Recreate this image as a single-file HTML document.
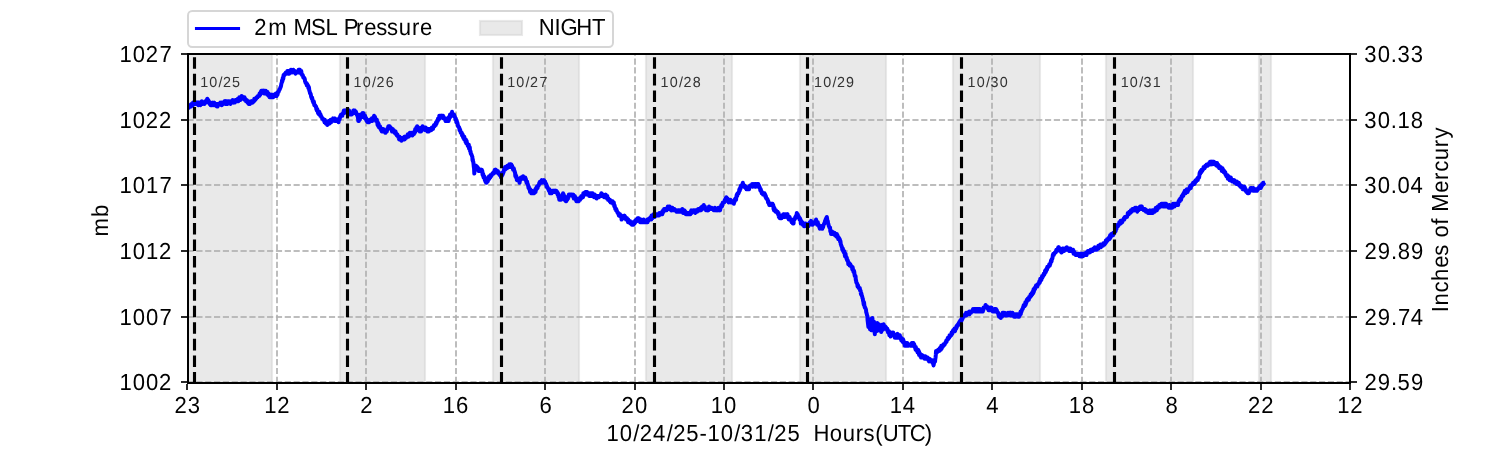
<!DOCTYPE html>
<html lang="en"><head><meta charset="utf-8"><title>2m MSL Pressure</title>
<style>html,body{margin:0;padding:0;background:#fff;}body{width:1500px;height:450px;overflow:hidden;}svg{display:block;}text{font-family:"Liberation Sans",sans-serif;text-rendering:geometricPrecision;white-space:pre;}</style></head><body>
<svg width="1500" height="450" viewBox="0 0 1500 450">
<rect x="0" y="0" width="1500" height="450" fill="#ffffff"/>
<defs><clipPath id="ax"><rect x="187.5" y="54" width="1162.5" height="328.5"/></clipPath></defs>
<g clip-path="url(#ax)">
<rect x="180" y="40" width="92" height="360" fill="#d3d3d3" fill-opacity="0.5" stroke="#d3d3d3" stroke-opacity="0.5" stroke-width="2.08"/>
<rect x="340" y="40" width="85" height="360" fill="#d3d3d3" fill-opacity="0.5" stroke="#d3d3d3" stroke-opacity="0.5" stroke-width="2.08"/>
<rect x="493" y="40" width="86" height="360" fill="#d3d3d3" fill-opacity="0.5" stroke="#d3d3d3" stroke-opacity="0.5" stroke-width="2.08"/>
<rect x="646" y="40" width="86" height="360" fill="#d3d3d3" fill-opacity="0.5" stroke="#d3d3d3" stroke-opacity="0.5" stroke-width="2.08"/>
<rect x="800" y="40" width="86" height="360" fill="#d3d3d3" fill-opacity="0.5" stroke="#d3d3d3" stroke-opacity="0.5" stroke-width="2.08"/>
<rect x="953" y="40" width="87" height="360" fill="#d3d3d3" fill-opacity="0.5" stroke="#d3d3d3" stroke-opacity="0.5" stroke-width="2.08"/>
<rect x="1106" y="40" width="87" height="360" fill="#d3d3d3" fill-opacity="0.5" stroke="#d3d3d3" stroke-opacity="0.5" stroke-width="2.08"/>
<rect x="1259" y="40" width="12" height="360" fill="#d3d3d3" fill-opacity="0.5" stroke="#d3d3d3" stroke-opacity="0.5" stroke-width="2.08"/>
</g>
<g clip-path="url(#ax)" stroke="#b0b0b0" stroke-opacity="0.835" stroke-width="2" stroke-dasharray="6.17 2.67" fill="none">
<path d="M188 382.9 V49"/>
<path d="M277 382.9 V49"/>
<path d="M366 382.9 V49"/>
<path d="M456 382.9 V49"/>
<path d="M545 382.9 V49"/>
<path d="M635 382.9 V49"/>
<path d="M724 382.9 V49"/>
<path d="M813 382.9 V49"/>
<path d="M903 382.9 V49"/>
<path d="M992 382.9 V49"/>
<path d="M1082 382.9 V49"/>
<path d="M1171 382.9 V49"/>
<path d="M1261 382.9 V49"/>
<path d="M1350 382.9 V49"/>
<path d="M187.5 382 H1355"/>
<path d="M187.5 317 H1355"/>
<path d="M187.5 251 H1355"/>
<path d="M187.5 185 H1355"/>
<path d="M187.5 120 H1355"/>
<path d="M187.5 54 H1355"/>
</g>
<g clip-path="url(#ax)">
<path d="M187.80 107.87 188.05 106.56 188.30 107.87 188.55 106.56 188.80 107.87 189.05 106.56 189.30 105.25 189.55 106.56 189.80 105.25 190.05 105.25 190.30 105.25 190.55 105.25 190.80 105.25 191.05 106.56 191.30 103.93 191.55 103.93 191.80 105.25 192.05 105.25 192.30 103.93 192.55 103.93 192.80 105.25 193.05 102.62 193.30 103.93 193.55 102.62 193.80 102.62 194.05 102.62 194.30 102.62 194.55 103.93 194.80 102.62 195.05 102.62 195.30 103.93 195.55 103.93 195.80 102.62 196.05 102.62 196.30 102.62 196.55 102.62 196.80 103.93 197.05 102.62 197.30 102.62 197.55 103.93 197.80 102.62 198.05 102.62 198.30 105.25 198.55 103.93 198.80 102.62 199.05 103.93 199.30 102.62 199.55 103.93 199.80 103.93 200.05 102.62 200.30 105.25 200.55 102.62 200.80 103.93 201.05 103.93 201.30 102.62 201.55 103.93 201.80 101.30 202.05 103.93 202.30 103.93 202.55 102.62 202.80 103.93 203.05 102.62 203.30 102.62 203.55 102.62 203.80 102.62 204.05 102.62 204.30 103.93 204.55 103.93 204.80 102.62 205.05 102.62 205.30 101.30 205.55 102.62 205.80 102.62 206.05 102.62 206.30 102.62 206.55 99.99 206.80 99.99 207.05 101.30 207.30 98.68 207.55 101.30 207.80 99.99 208.05 99.99 208.30 99.99 208.55 102.62 208.80 101.30 209.05 101.30 209.30 102.62 209.55 103.93 209.80 102.62 210.05 103.93 210.30 103.93 210.55 105.25 210.80 105.25 211.05 105.25 211.30 103.93 211.55 103.93 211.80 103.93 212.05 105.25 212.30 105.25 212.55 102.62 212.80 103.93 213.05 103.93 213.30 103.93 213.55 103.93 213.80 105.25 214.05 103.93 214.30 102.62 214.55 103.93 214.80 103.93 215.05 105.25 215.30 105.25 215.55 105.25 215.80 103.93 216.05 105.25 216.30 105.25 216.55 103.93 216.80 106.56 217.05 106.56 217.30 106.56 217.55 106.56 217.80 105.25 218.05 105.25 218.30 103.93 218.55 105.25 218.80 103.93 219.05 103.93 219.30 103.93 219.55 103.93 219.80 103.93 220.05 103.93 220.30 102.62 220.55 103.93 220.80 103.93 221.05 103.93 221.30 102.62 221.55 105.25 221.80 105.25 222.05 102.62 222.30 103.93 222.55 103.93 222.80 102.62 223.05 102.62 223.30 103.93 223.55 103.93 223.80 102.62 224.05 102.62 224.30 101.30 224.55 101.30 224.80 102.62 225.05 101.30 225.30 103.93 225.55 101.30 225.80 101.30 226.05 103.93 226.30 102.62 226.55 101.30 226.80 102.62 227.05 101.30 227.30 102.62 227.55 103.93 227.80 102.62 228.05 102.62 228.30 101.30 228.55 101.30 228.80 101.30 229.05 102.62 229.30 102.62 229.55 102.62 229.80 101.30 230.05 101.30 230.30 102.62 230.55 103.93 230.80 102.62 231.05 102.62 231.30 102.62 231.55 102.62 231.80 101.30 232.05 101.30 232.30 101.30 232.55 99.99 232.80 99.99 233.05 101.30 233.30 101.30 233.55 101.30 233.80 102.62 234.05 101.30 234.30 102.62 234.55 102.62 234.80 102.62 235.05 101.30 235.30 99.99 235.55 99.99 235.80 99.99 236.05 99.99 236.30 101.30 236.55 101.30 236.80 101.30 237.05 99.99 237.30 99.99 237.55 101.30 237.80 98.68 238.05 99.99 238.30 101.30 238.55 99.99 238.80 99.99 239.05 98.68 239.30 97.36 239.55 99.99 239.80 98.68 240.05 98.68 240.30 99.99 240.55 97.36 240.80 97.36 241.05 98.68 241.30 98.68 241.55 96.05 241.80 96.05 242.05 97.36 242.30 98.68 242.55 98.68 242.80 97.36 243.05 98.68 243.30 98.68 243.55 98.68 243.80 97.36 244.05 98.68 244.30 97.36 244.55 97.36 244.80 99.99 245.05 98.68 245.30 98.68 245.55 99.99 245.80 99.99 246.05 101.30 246.30 101.30 246.55 99.99 246.80 99.99 247.05 101.30 247.30 101.30 247.55 102.62 247.80 101.30 248.05 102.62 248.30 101.30 248.55 103.93 248.80 102.62 249.05 102.62 249.30 102.62 249.55 103.93 249.80 102.62 250.05 103.93 250.30 102.62 250.55 102.62 250.80 102.62 251.05 101.30 251.30 102.62 251.55 101.30 251.80 101.30 252.05 102.62 252.30 101.30 252.55 101.30 252.80 102.62 253.05 101.30 253.30 101.30 253.55 101.30 253.80 101.30 254.05 101.30 254.30 98.68 254.55 99.99 254.80 98.68 255.05 98.68 255.30 99.99 255.55 98.68 255.80 98.68 256.05 98.68 256.30 98.68 256.55 97.36 256.80 97.36 257.05 97.36 257.30 97.36 257.55 97.36 257.80 96.05 258.05 96.05 258.30 96.05 258.55 96.05 258.80 96.05 259.05 96.05 259.30 96.05 259.55 93.42 259.80 93.42 260.05 94.73 260.30 94.73 260.55 92.11 260.80 92.11 261.05 92.11 261.30 90.79 261.55 92.11 261.80 90.79 262.05 92.11 262.30 92.11 262.55 92.11 262.80 90.79 263.05 92.11 263.30 92.11 263.55 90.79 263.80 93.42 264.05 93.42 264.30 90.79 264.55 93.42 264.80 92.11 265.05 92.11 265.30 93.42 265.55 93.42 265.80 90.79 266.05 92.11 266.30 92.11 266.55 92.11 266.80 92.11 267.05 93.42 267.30 94.73 267.55 92.11 267.80 94.73 268.05 94.73 268.30 93.42 268.55 94.73 268.80 96.05 269.05 96.05 269.30 94.73 269.55 97.36 269.80 97.36 270.05 97.36 270.30 94.73 270.55 96.05 270.80 94.73 271.05 97.36 271.30 96.05 271.55 94.73 271.80 96.05 272.05 97.36 272.30 97.36 272.55 96.05 272.80 94.73 273.05 97.36 273.30 96.05 273.55 96.05 273.80 94.73 274.05 94.73 274.30 96.05 274.55 94.73 274.80 94.73 275.05 96.05 275.30 96.05 275.55 96.05 275.80 93.42 276.05 96.05 276.30 93.42 276.55 96.05 276.80 94.73 277.05 93.42 277.30 94.73 277.55 94.73 277.80 92.11 278.05 92.11 278.30 92.11 278.55 92.11 278.80 90.79 279.05 90.79 279.30 89.48 279.55 89.48 279.80 89.48 280.05 88.16 280.30 88.16 280.55 86.85 280.80 86.85 281.05 85.54 281.30 84.22 281.55 82.91 281.80 82.91 282.05 80.28 282.30 81.59 282.55 80.28 282.80 77.65 283.05 77.65 283.30 78.97 283.55 75.02 283.80 76.34 284.05 75.02 284.30 75.02 284.55 75.02 284.80 73.71 285.05 73.71 285.30 73.71 285.55 73.71 285.80 72.40 286.05 73.71 286.30 73.71 286.55 73.71 286.80 72.40 287.05 72.40 287.30 71.08 287.55 72.40 287.80 71.08 288.05 73.71 288.30 72.40 288.55 71.08 288.80 71.08 289.05 73.71 289.30 73.71 289.55 72.40 289.80 71.08 290.05 71.08 290.30 71.08 290.55 71.08 290.80 69.77 291.05 69.77 291.30 69.77 291.55 72.40 291.80 72.40 292.05 71.08 292.30 71.08 292.55 72.40 292.80 71.08 293.05 71.08 293.30 69.77 293.55 71.08 293.80 72.40 294.05 72.40 294.30 71.08 294.55 72.40 294.80 71.08 295.05 72.40 295.30 72.40 295.55 73.71 295.80 72.40 296.05 72.40 296.30 72.40 296.55 72.40 296.80 72.40 297.05 72.40 297.30 72.40 297.55 72.40 297.80 72.40 298.05 72.40 298.30 71.08 298.55 69.77 298.80 72.40 299.05 69.77 299.30 71.08 299.55 71.08 299.80 69.77 300.05 72.40 300.30 72.40 300.55 72.40 300.80 72.40 301.05 73.71 301.30 71.08 301.55 73.71 301.80 73.71 302.05 75.02 302.30 75.02 302.55 75.02 302.80 75.02 303.05 76.34 303.30 77.65 303.55 77.65 303.80 77.65 304.05 77.65 304.30 77.65 304.55 78.97 304.80 78.97 305.05 81.59 305.30 81.59 305.55 82.91 305.80 82.91 306.05 82.91 306.30 82.91 306.55 82.91 306.80 85.54 307.05 85.54 307.30 84.22 307.55 85.54 307.80 85.54 308.05 85.54 308.30 88.16 308.55 86.85 308.80 86.85 309.05 88.16 309.30 90.79 309.55 90.79 309.80 92.11 310.05 93.42 310.30 93.42 310.55 93.42 310.80 94.73 311.05 96.05 311.30 97.36 311.55 97.36 311.80 98.68 312.05 97.36 312.30 98.68 312.55 99.99 312.80 101.30 313.05 101.30 313.30 102.62 313.55 101.30 313.80 101.30 314.05 102.62 314.30 105.25 314.55 105.25 314.80 105.25 315.05 105.25 315.30 105.25 315.55 106.56 315.80 106.56 316.05 106.56 316.30 109.19 316.55 107.87 316.80 110.50 317.05 110.50 317.30 109.19 317.55 110.50 317.80 111.82 318.05 113.13 318.30 111.82 318.55 111.82 318.80 111.82 319.05 114.44 319.30 111.82 319.55 113.13 319.80 113.13 320.05 114.44 320.30 115.76 320.55 114.44 320.80 115.76 321.05 115.76 321.30 117.07 321.55 117.07 321.80 117.07 322.05 118.39 322.30 118.39 322.55 118.39 322.80 118.39 323.05 119.70 323.30 119.70 323.55 119.70 323.80 119.70 324.05 119.70 324.30 121.01 324.55 122.33 324.80 119.70 325.05 122.33 325.30 122.33 325.55 121.01 325.80 123.64 326.05 122.33 326.30 123.64 326.55 122.33 326.80 122.33 327.05 122.33 327.30 124.96 327.55 123.64 327.80 122.33 328.05 123.64 328.30 122.33 328.55 121.01 328.80 122.33 329.05 123.64 329.30 122.33 329.55 123.64 329.80 121.01 330.05 121.01 330.30 121.01 330.55 119.70 330.80 119.70 331.05 122.33 331.30 121.01 331.55 121.01 331.80 121.01 332.05 121.01 332.30 121.01 332.55 119.70 332.80 119.70 333.05 118.39 333.30 119.70 333.55 119.70 333.80 119.70 334.05 119.70 334.30 118.39 334.55 118.39 334.80 121.01 335.05 118.39 335.30 119.70 335.55 119.70 335.80 119.70 336.05 121.01 336.30 121.01 336.55 119.70 336.80 121.01 337.05 119.70 337.30 121.01 337.55 119.70 337.80 119.70 338.05 119.70 338.30 119.70 338.55 122.33 338.80 119.70 339.05 118.39 339.30 119.70 339.55 119.70 339.80 118.39 340.05 117.07 340.30 115.76 340.55 115.76 340.80 115.76 341.05 114.44 341.30 114.44 341.55 114.44 341.80 114.44 342.05 115.76 342.30 115.76 342.55 114.44 342.80 113.13 343.05 113.13 343.30 113.13 343.55 111.82 343.80 110.50 344.05 111.82 344.30 113.13 344.55 110.50 344.80 110.50 345.05 110.50 345.30 111.82 345.55 110.50 345.80 110.50 346.05 110.50 346.30 110.50 346.55 110.50 346.80 111.82 347.05 111.82 347.30 111.82 347.55 109.19 347.80 110.50 348.05 111.82 348.30 113.13 348.55 111.82 348.80 111.82 349.05 110.50 349.30 113.13 349.55 114.44 349.80 114.44 350.05 114.44 350.30 114.44 350.55 113.13 350.80 113.13 351.05 113.13 351.30 113.13 351.55 114.44 351.80 114.44 352.05 113.13 352.30 113.13 352.55 113.13 352.80 111.82 353.05 113.13 353.30 110.50 353.55 113.13 353.80 110.50 354.05 113.13 354.30 111.82 354.55 111.82 354.80 110.50 355.05 111.82 355.30 113.13 355.55 113.13 355.80 111.82 356.05 111.82 356.30 113.13 356.55 114.44 356.80 114.44 357.05 114.44 357.30 115.76 357.55 114.44 357.80 117.07 358.05 118.39 358.30 121.01 358.55 121.01 358.80 121.01 359.05 119.70 359.30 118.39 359.55 118.39 359.80 119.70 360.05 118.39 360.30 115.76 360.55 114.44 360.80 115.76 361.05 117.07 361.30 115.76 361.55 114.44 361.80 115.76 362.05 117.07 362.30 114.44 362.55 113.13 362.80 114.44 363.05 114.44 363.30 114.44 363.55 113.13 363.80 115.76 364.05 115.76 364.30 115.76 364.55 115.76 364.80 118.39 365.05 115.76 365.30 118.39 365.55 117.07 365.80 118.39 366.05 119.70 366.30 118.39 366.55 121.01 366.80 119.70 367.05 119.70 367.30 119.70 367.55 121.01 367.80 122.33 368.05 122.33 368.30 121.01 368.55 122.33 368.80 121.01 369.05 122.33 369.30 121.01 369.55 119.70 369.80 119.70 370.05 119.70 370.30 121.01 370.55 121.01 370.80 121.01 371.05 121.01 371.30 121.01 371.55 119.70 371.80 118.39 372.05 121.01 372.30 119.70 372.55 118.39 372.80 119.70 373.05 118.39 373.30 118.39 373.55 118.39 373.80 117.07 374.05 115.76 374.30 117.07 374.55 117.07 374.80 118.39 375.05 117.07 375.30 119.70 375.55 118.39 375.80 119.70 376.05 121.01 376.30 121.01 376.55 121.01 376.80 119.70 377.05 122.33 377.30 122.33 377.55 124.96 377.80 122.33 378.05 123.64 378.30 126.27 378.55 123.64 378.80 124.96 379.05 127.58 379.30 127.58 379.55 126.27 379.80 126.27 380.05 126.27 380.30 128.90 380.55 127.58 380.80 128.90 381.05 130.21 381.30 128.90 381.55 128.90 381.80 131.53 382.05 130.21 382.30 128.90 382.55 130.21 382.80 128.90 383.05 128.90 383.30 128.90 383.55 131.53 383.80 131.53 384.05 131.53 384.30 131.53 384.55 130.21 384.80 130.21 385.05 131.53 385.30 132.84 385.55 132.84 385.80 131.53 386.05 130.21 386.30 130.21 386.55 130.21 386.80 131.53 387.05 128.90 387.30 130.21 387.55 128.90 387.80 128.90 388.05 127.58 388.30 126.27 388.55 126.27 388.80 126.27 389.05 126.27 389.30 127.58 389.55 126.27 389.80 126.27 390.05 127.58 390.30 127.58 390.55 127.58 390.80 127.58 391.05 128.90 391.30 128.90 391.55 130.21 391.80 130.21 392.05 131.53 392.30 128.90 392.55 128.90 392.80 128.90 393.05 130.21 393.30 131.53 393.55 131.53 393.80 130.21 394.05 131.53 394.30 131.53 394.55 132.84 394.80 132.84 395.05 132.84 395.30 132.84 395.55 131.53 395.80 134.15 396.05 132.84 396.30 134.15 396.55 134.15 396.80 135.47 397.05 134.15 397.30 134.15 397.55 135.47 397.80 135.47 398.05 136.78 398.30 136.78 398.55 136.78 398.80 136.78 399.05 139.41 399.30 138.10 399.55 136.78 399.80 139.41 400.05 139.41 400.30 139.41 400.55 138.10 400.80 139.41 401.05 139.41 401.30 140.72 401.55 140.72 401.80 138.10 402.05 138.10 402.30 138.10 402.55 138.10 402.80 139.41 403.05 139.41 403.30 139.41 403.55 138.10 403.80 139.41 404.05 138.10 404.30 136.78 404.55 139.41 404.80 139.41 405.05 136.78 405.30 138.10 405.55 138.10 405.80 136.78 406.05 138.10 406.30 136.78 406.55 136.78 406.80 136.78 407.05 136.78 407.30 136.78 407.55 135.47 407.80 134.15 408.05 135.47 408.30 136.78 408.55 134.15 408.80 134.15 409.05 134.15 409.30 135.47 409.55 135.47 409.80 132.84 410.05 134.15 410.30 134.15 410.55 135.47 410.80 135.47 411.05 132.84 411.30 132.84 411.55 134.15 411.80 134.15 412.05 134.15 412.30 134.15 412.55 135.47 412.80 134.15 413.05 134.15 413.30 132.84 413.55 132.84 413.80 134.15 414.05 134.15 414.30 131.53 414.55 131.53 414.80 132.84 415.05 130.21 415.30 128.90 415.55 131.53 415.80 128.90 416.05 130.21 416.30 127.58 416.55 128.90 416.80 127.58 417.05 126.27 417.30 126.27 417.55 127.58 417.80 128.90 418.05 128.90 418.30 127.58 418.55 130.21 418.80 130.21 419.05 130.21 419.30 130.21 419.55 130.21 419.80 131.53 420.05 131.53 420.30 128.90 420.55 130.21 420.80 131.53 421.05 131.53 421.30 128.90 421.55 127.58 421.80 130.21 422.05 130.21 422.30 128.90 422.55 126.27 422.80 128.90 423.05 127.58 423.30 128.90 423.55 127.58 423.80 128.90 424.05 127.58 424.30 128.90 424.55 127.58 424.80 128.90 425.05 128.90 425.30 130.21 425.55 127.58 425.80 127.58 426.05 128.90 426.30 128.90 426.55 128.90 426.80 128.90 427.05 128.90 427.30 130.21 427.55 131.53 427.80 128.90 428.05 130.21 428.30 130.21 428.55 128.90 428.80 131.53 429.05 128.90 429.30 130.21 429.55 130.21 429.80 130.21 430.05 128.90 430.30 130.21 430.55 130.21 430.80 130.21 431.05 130.21 431.30 130.21 431.55 128.90 431.80 127.58 432.05 128.90 432.30 128.90 432.55 127.58 432.80 128.90 433.05 128.90 433.30 127.58 433.55 126.27 433.80 126.27 434.05 124.96 434.30 124.96 434.55 126.27 434.80 124.96 435.05 124.96 435.30 124.96 435.55 123.64 435.80 124.96 436.05 122.33 436.30 123.64 436.55 123.64 436.80 122.33 437.05 121.01 437.30 121.01 437.55 121.01 437.80 121.01 438.05 118.39 438.30 119.70 438.55 119.70 438.80 118.39 439.05 118.39 439.30 115.76 439.55 118.39 439.80 117.07 440.05 118.39 440.30 117.07 440.55 115.76 440.80 117.07 441.05 117.07 441.30 115.76 441.55 115.76 441.80 117.07 442.05 115.76 442.30 117.07 442.55 115.76 442.80 117.07 443.05 115.76 443.30 117.07 443.55 118.39 443.80 117.07 444.05 118.39 444.30 118.39 444.55 118.39 444.80 118.39 445.05 118.39 445.30 119.70 445.55 121.01 445.80 121.01 446.05 121.01 446.30 119.70 446.55 121.01 446.80 118.39 447.05 119.70 447.30 119.70 447.55 119.70 447.80 121.01 448.05 119.70 448.30 119.70 448.55 121.01 448.80 117.07 449.05 119.70 449.30 118.39 449.55 117.07 449.80 117.07 450.05 114.44 450.30 117.07 450.55 115.76 450.80 114.44 451.05 115.76 451.30 114.44 451.55 113.13 451.80 114.44 452.05 111.82 452.30 114.44 452.55 113.13 452.80 114.44 453.05 115.76 453.30 114.44 453.55 115.76 453.80 114.44 454.05 114.44 454.30 115.76 454.55 115.76 454.80 117.07 455.05 117.07 455.30 118.39 455.55 119.70 455.80 118.39 456.05 119.70 456.30 122.33 456.55 121.01 456.80 121.01 457.05 122.33 457.30 122.33 457.55 123.64 457.80 124.96 458.05 126.27 458.30 126.27 458.55 126.27 458.80 127.58 459.05 127.58 459.30 127.58 459.55 130.21 459.80 128.90 460.05 130.21 460.30 130.21 460.55 131.53 460.80 132.84 461.05 132.84 461.30 132.84 461.55 132.84 461.80 132.84 462.05 135.47 462.30 135.47 462.55 134.15 462.80 136.78 463.05 135.47 463.30 138.10 463.55 138.10 463.80 136.78 464.05 139.41 464.30 136.78 464.55 139.41 464.80 139.41 465.05 139.41 465.30 139.41 465.55 142.04 465.80 139.41 466.05 142.04 466.30 143.35 466.55 140.72 466.80 142.04 467.05 143.35 467.30 143.35 467.55 144.67 467.80 145.98 468.05 144.67 468.30 144.67 468.55 145.98 468.80 144.67 469.05 148.61 469.30 148.61 469.55 148.61 469.80 147.29 470.05 151.24 470.30 151.24 470.55 151.24 470.80 153.86 471.05 153.86 471.30 153.86 471.55 155.18 471.80 155.18 472.05 156.49 472.30 156.49 472.55 160.43 472.80 159.12 473.05 161.75 473.30 161.75 473.55 164.38 473.80 167.00 474.05 168.32 474.30 173.57 474.55 170.95 474.80 168.32 475.05 167.00 475.30 165.69 475.55 165.69 475.80 167.00 476.05 165.69 476.30 167.00 476.55 167.00 476.80 168.32 477.05 168.32 477.30 167.00 477.55 167.00 477.80 168.32 478.05 168.32 478.30 168.32 478.55 170.95 478.80 169.63 479.05 169.63 479.30 169.63 479.55 170.95 479.80 169.63 480.05 169.63 480.30 169.63 480.55 170.95 480.80 169.63 481.05 170.95 481.30 169.63 481.55 169.63 481.80 169.63 482.05 172.26 482.30 170.95 482.55 174.89 482.80 173.57 483.05 173.57 483.30 174.89 483.55 177.52 483.80 176.20 484.05 176.20 484.30 176.20 484.55 177.52 484.80 180.14 485.05 180.14 485.30 181.46 485.55 181.46 485.80 180.14 486.05 182.77 486.30 181.46 486.55 182.77 486.80 181.46 487.05 181.46 487.30 178.83 487.55 181.46 487.80 181.46 488.05 180.14 488.30 177.52 488.55 177.52 488.80 177.52 489.05 176.20 489.30 178.83 489.55 177.52 489.80 177.52 490.05 177.52 490.30 177.52 490.55 174.89 490.80 174.89 491.05 174.89 491.30 176.20 491.55 174.89 491.80 174.89 492.05 174.89 492.30 173.57 492.55 173.57 492.80 173.57 493.05 173.57 493.30 172.26 493.55 172.26 493.80 173.57 494.05 172.26 494.30 172.26 494.55 170.95 494.80 169.63 495.05 169.63 495.30 169.63 495.55 170.95 495.80 169.63 496.05 170.95 496.30 170.95 496.55 170.95 496.80 172.26 497.05 170.95 497.30 172.26 497.55 170.95 497.80 170.95 498.05 172.26 498.30 173.57 498.55 173.57 498.80 172.26 499.05 173.57 499.30 173.57 499.55 174.89 499.80 173.57 500.05 174.89 500.30 174.89 500.55 176.20 500.80 174.89 501.05 177.52 501.30 174.89 501.55 174.89 501.80 176.20 502.05 174.89 502.30 173.57 502.55 174.89 502.80 172.26 503.05 173.57 503.30 172.26 503.55 172.26 503.80 170.95 504.05 169.63 504.30 168.32 504.55 168.32 504.80 169.63 505.05 167.00 505.30 169.63 505.55 167.00 505.80 167.00 506.05 167.00 506.30 168.32 506.55 167.00 506.80 167.00 507.05 168.32 507.30 165.69 507.55 167.00 507.80 167.00 508.05 167.00 508.30 167.00 508.55 167.00 508.80 165.69 509.05 165.69 509.30 164.38 509.55 167.00 509.80 165.69 510.05 167.00 510.30 164.38 510.55 165.69 510.80 167.00 511.05 165.69 511.30 164.38 511.55 165.69 511.80 167.00 512.05 165.69 512.30 167.00 512.55 167.00 512.80 168.32 513.05 169.63 513.30 168.32 513.55 168.32 513.80 168.32 514.05 169.63 514.30 170.95 514.55 170.95 514.80 172.26 515.05 172.26 515.30 176.20 515.55 176.20 515.80 174.89 516.05 177.52 516.30 176.20 516.55 177.52 516.80 180.14 517.05 180.14 517.30 180.14 517.55 178.83 517.80 178.83 518.05 180.14 518.30 178.83 518.55 180.14 518.80 180.14 519.05 180.14 519.30 181.46 519.55 182.77 519.80 181.46 520.05 180.14 520.30 180.14 520.55 178.83 520.80 177.52 521.05 178.83 521.30 177.52 521.55 177.52 521.80 178.83 522.05 177.52 522.30 177.52 522.55 178.83 522.80 177.52 523.05 176.20 523.30 178.83 523.55 178.83 523.80 178.83 524.05 178.83 524.30 178.83 524.55 178.83 524.80 178.83 525.05 177.52 525.30 177.52 525.55 180.14 525.80 178.83 526.05 180.14 526.30 181.46 526.55 182.77 526.80 182.77 527.05 181.46 527.30 182.77 527.55 184.09 527.80 184.09 528.05 185.40 528.30 186.71 528.55 188.03 528.80 186.71 529.05 188.03 529.30 189.34 529.55 189.34 529.80 189.34 530.05 191.97 530.30 189.34 530.55 190.66 530.80 190.66 531.05 191.97 531.30 193.28 531.55 191.97 531.80 190.66 532.05 191.97 532.30 193.28 532.55 193.28 532.80 193.28 533.05 193.28 533.30 193.28 533.55 193.28 533.80 191.97 534.05 193.28 534.30 190.66 534.55 191.97 534.80 190.66 535.05 191.97 535.30 189.34 535.55 191.97 535.80 189.34 536.05 188.03 536.30 189.34 536.55 189.34 536.80 186.71 537.05 188.03 537.30 188.03 537.55 188.03 537.80 186.71 538.05 185.40 538.30 185.40 538.55 185.40 538.80 185.40 539.05 184.09 539.30 182.77 539.55 184.09 539.80 182.77 540.05 181.46 540.30 181.46 540.55 182.77 540.80 182.77 541.05 181.46 541.30 181.46 541.55 181.46 541.80 180.14 542.05 182.77 542.30 180.14 542.55 181.46 542.80 181.46 543.05 181.46 543.30 180.14 543.55 180.14 543.80 181.46 544.05 180.14 544.30 181.46 544.55 181.46 544.80 182.77 545.05 181.46 545.30 182.77 545.55 182.77 545.80 184.09 546.05 184.09 546.30 184.09 546.55 186.71 546.80 185.40 547.05 186.71 547.30 186.71 547.55 188.03 547.80 188.03 548.05 188.03 548.30 189.34 548.55 189.34 548.80 190.66 549.05 190.66 549.30 189.34 549.55 191.97 549.80 191.97 550.05 193.28 550.30 190.66 550.55 193.28 550.80 193.28 551.05 190.66 551.30 190.66 551.55 193.28 551.80 191.97 552.05 191.97 552.30 190.66 552.55 190.66 552.80 190.66 553.05 191.97 553.30 191.97 553.55 190.66 553.80 191.97 554.05 191.97 554.30 190.66 554.55 191.97 554.80 191.97 555.05 191.97 555.30 190.66 555.55 191.97 555.80 190.66 556.05 190.66 556.30 190.66 556.55 191.97 556.80 191.97 557.05 193.28 557.30 191.97 557.55 194.60 557.80 193.28 558.05 193.28 558.30 195.91 558.55 197.23 558.80 197.23 559.05 197.23 559.30 199.85 559.55 198.54 559.80 199.85 560.05 198.54 560.30 198.54 560.55 199.85 560.80 195.91 561.05 199.85 561.30 195.91 561.55 197.23 561.80 197.23 562.05 197.23 562.30 194.60 562.55 194.60 562.80 197.23 563.05 193.28 563.30 195.91 563.55 195.91 563.80 194.60 564.05 197.23 564.30 198.54 564.55 199.85 564.80 197.23 565.05 199.85 565.30 198.54 565.55 199.85 565.80 201.17 566.05 197.23 566.30 201.17 566.55 199.85 566.80 198.54 567.05 199.85 567.30 199.85 567.55 197.23 567.80 197.23 568.05 198.54 568.30 195.91 568.55 197.23 568.80 194.60 569.05 194.60 569.30 194.60 569.55 194.60 569.80 194.60 570.05 194.60 570.30 194.60 570.55 194.60 570.80 194.60 571.05 194.60 571.30 194.60 571.55 194.60 571.80 194.60 572.05 194.60 572.30 195.91 572.55 195.91 572.80 195.91 573.05 195.91 573.30 194.60 573.55 197.23 573.80 198.54 574.05 197.23 574.30 197.23 574.55 198.54 574.80 195.91 575.05 197.23 575.30 198.54 575.55 198.54 575.80 199.85 576.05 199.85 576.30 201.17 576.55 199.85 576.80 199.85 577.05 201.17 577.30 201.17 577.55 199.85 577.80 201.17 578.05 198.54 578.30 201.17 578.55 199.85 578.80 201.17 579.05 198.54 579.30 198.54 579.55 198.54 579.80 199.85 580.05 199.85 580.30 198.54 580.55 197.23 580.80 197.23 581.05 198.54 581.30 195.91 581.55 195.91 581.80 197.23 582.05 195.91 582.30 195.91 582.55 195.91 582.80 195.91 583.05 197.23 583.30 193.28 583.55 194.60 583.80 193.28 584.05 193.28 584.30 194.60 584.55 194.60 584.80 194.60 585.05 193.28 585.30 191.97 585.55 191.97 585.80 193.28 586.05 193.28 586.30 194.60 586.55 193.28 586.80 193.28 587.05 191.97 587.30 193.28 587.55 193.28 587.80 193.28 588.05 193.28 588.30 193.28 588.55 194.60 588.80 193.28 589.05 195.91 589.30 194.60 589.55 195.91 589.80 194.60 590.05 193.28 590.30 195.91 590.55 194.60 590.80 195.91 591.05 194.60 591.30 193.28 591.55 195.91 591.80 194.60 592.05 195.91 592.30 194.60 592.55 193.28 592.80 194.60 593.05 195.91 593.30 194.60 593.55 195.91 593.80 194.60 594.05 197.23 594.30 195.91 594.55 194.60 594.80 194.60 595.05 197.23 595.30 197.23 595.55 195.91 595.80 195.91 596.05 197.23 596.30 195.91 596.55 198.54 596.80 197.23 597.05 195.91 597.30 197.23 597.55 197.23 597.80 197.23 598.05 197.23 598.30 195.91 598.55 197.23 598.80 195.91 599.05 197.23 599.30 195.91 599.55 195.91 599.80 195.91 600.05 195.91 600.30 195.91 600.55 195.91 600.80 194.60 601.05 194.60 601.30 193.28 601.55 195.91 601.80 195.91 602.05 195.91 602.30 194.60 602.55 195.91 602.80 195.91 603.05 195.91 603.30 195.91 603.55 194.60 603.80 195.91 604.05 197.23 604.30 195.91 604.55 195.91 604.80 195.91 605.05 197.23 605.30 197.23 605.55 195.91 605.80 194.60 606.05 195.91 606.30 195.91 606.55 197.23 606.80 197.23 607.05 198.54 607.30 195.91 607.55 198.54 607.80 198.54 608.05 199.85 608.30 198.54 608.55 198.54 608.80 199.85 609.05 199.85 609.30 199.85 609.55 201.17 609.80 199.85 610.05 199.85 610.30 201.17 610.55 202.48 610.80 201.17 611.05 202.48 611.30 202.48 611.55 201.17 611.80 202.48 612.05 202.48 612.30 202.48 612.55 201.17 612.80 202.48 613.05 203.80 613.30 203.80 613.55 203.80 613.80 202.48 614.05 205.11 614.30 206.42 614.55 205.11 614.80 206.42 615.05 207.74 615.30 209.05 615.55 209.05 615.80 209.05 616.05 210.37 616.30 209.05 616.55 210.37 616.80 210.37 617.05 211.68 617.30 211.68 617.55 212.99 617.80 212.99 618.05 212.99 618.30 212.99 618.55 212.99 618.80 215.62 619.05 214.31 619.30 214.31 619.55 215.62 619.80 215.62 620.05 214.31 620.30 215.62 620.55 215.62 620.80 216.94 621.05 215.62 621.30 215.62 621.55 219.56 621.80 218.25 622.05 216.94 622.30 216.94 622.55 216.94 622.80 218.25 623.05 216.94 623.30 218.25 623.55 218.25 623.80 218.25 624.05 218.25 624.30 216.94 624.55 215.62 624.80 216.94 625.05 216.94 625.30 216.94 625.55 216.94 625.80 218.25 626.05 219.56 626.30 218.25 626.55 219.56 626.80 219.56 627.05 218.25 627.30 219.56 627.55 219.56 627.80 219.56 628.05 222.19 628.30 219.56 628.55 220.88 628.80 220.88 629.05 222.19 629.30 222.19 629.55 220.88 629.80 220.88 630.05 220.88 630.30 223.51 630.55 223.51 630.80 222.19 631.05 222.19 631.30 222.19 631.55 222.19 631.80 224.82 632.05 224.82 632.30 224.82 632.55 222.19 632.80 224.82 633.05 224.82 633.30 224.82 633.55 224.82 633.80 222.19 634.05 222.19 634.30 223.51 634.55 223.51 634.80 222.19 635.05 220.88 635.30 222.19 635.55 222.19 635.80 220.88 636.05 220.88 636.30 219.56 636.55 219.56 636.80 220.88 637.05 219.56 637.30 219.56 637.55 218.25 637.80 220.88 638.05 218.25 638.30 219.56 638.55 218.25 638.80 218.25 639.05 220.88 639.30 219.56 639.55 220.88 639.80 220.88 640.05 222.19 640.30 219.56 640.55 220.88 640.80 219.56 641.05 222.19 641.30 222.19 641.55 222.19 641.80 220.88 642.05 220.88 642.30 222.19 642.55 220.88 642.80 222.19 643.05 220.88 643.30 220.88 643.55 219.56 643.80 222.19 644.05 220.88 644.30 220.88 644.55 222.19 644.80 220.88 645.05 220.88 645.30 220.88 645.55 220.88 645.80 222.19 646.05 220.88 646.30 220.88 646.55 220.88 646.80 220.88 647.05 222.19 647.30 219.56 647.55 222.19 647.80 219.56 648.05 220.88 648.30 220.88 648.55 219.56 648.80 219.56 649.05 219.56 649.30 218.25 649.55 218.25 649.80 218.25 650.05 219.56 650.30 219.56 650.55 219.56 650.80 216.94 651.05 216.94 651.30 219.56 651.55 215.62 651.80 218.25 652.05 216.94 652.30 218.25 652.55 215.62 652.80 216.94 653.05 215.62 653.30 215.62 653.55 214.31 653.80 216.94 654.05 215.62 654.30 214.31 654.55 215.62 654.80 216.94 655.05 215.62 655.30 215.62 655.55 214.31 655.80 214.31 656.05 215.62 656.30 215.62 656.55 214.31 656.80 214.31 657.05 214.31 657.30 215.62 657.55 215.62 657.80 215.62 658.05 214.31 658.30 215.62 658.55 215.62 658.80 215.62 659.05 215.62 659.30 212.99 659.55 212.99 659.80 214.31 660.05 214.31 660.30 214.31 660.55 212.99 660.80 214.31 661.05 212.99 661.30 214.31 661.55 214.31 661.80 212.99 662.05 211.68 662.30 214.31 662.55 211.68 662.80 212.99 663.05 210.37 663.30 210.37 663.55 211.68 663.80 210.37 664.05 209.05 664.30 210.37 664.55 210.37 664.80 209.05 665.05 210.37 665.30 209.05 665.55 210.37 665.80 209.05 666.05 210.37 666.30 210.37 666.55 210.37 666.80 209.05 667.05 209.05 667.30 207.74 667.55 209.05 667.80 206.42 668.05 209.05 668.30 209.05 668.55 207.74 668.80 207.74 669.05 207.74 669.30 207.74 669.55 206.42 669.80 209.05 670.05 207.74 670.30 207.74 670.55 207.74 670.80 207.74 671.05 210.37 671.30 207.74 671.55 207.74 671.80 210.37 672.05 209.05 672.30 207.74 672.55 210.37 672.80 210.37 673.05 210.37 673.30 210.37 673.55 209.05 673.80 210.37 674.05 210.37 674.30 209.05 674.55 209.05 674.80 210.37 675.05 210.37 675.30 210.37 675.55 210.37 675.80 210.37 676.05 210.37 676.30 211.68 676.55 211.68 676.80 210.37 677.05 211.68 677.30 211.68 677.55 210.37 677.80 211.68 678.05 211.68 678.30 210.37 678.55 210.37 678.80 211.68 679.05 210.37 679.30 210.37 679.55 211.68 679.80 211.68 680.05 210.37 680.30 210.37 680.55 210.37 680.80 210.37 681.05 211.68 681.30 211.68 681.55 211.68 681.80 211.68 682.05 211.68 682.30 209.05 682.55 211.68 682.80 211.68 683.05 212.99 683.30 210.37 683.55 210.37 683.80 211.68 684.05 211.68 684.30 211.68 684.55 210.37 684.80 211.68 685.05 212.99 685.30 211.68 685.55 211.68 685.80 214.31 686.05 214.31 686.30 214.31 686.55 214.31 686.80 214.31 687.05 214.31 687.30 214.31 687.55 212.99 687.80 214.31 688.05 214.31 688.30 214.31 688.55 212.99 688.80 214.31 689.05 214.31 689.30 212.99 689.55 212.99 689.80 212.99 690.05 212.99 690.30 214.31 690.55 211.68 690.80 211.68 691.05 211.68 691.30 210.37 691.55 211.68 691.80 212.99 692.05 211.68 692.30 211.68 692.55 211.68 692.80 211.68 693.05 210.37 693.30 210.37 693.55 210.37 693.80 211.68 694.05 211.68 694.30 211.68 694.55 210.37 694.80 210.37 695.05 211.68 695.30 212.99 695.55 211.68 695.80 211.68 696.05 211.68 696.30 210.37 696.55 211.68 696.80 211.68 697.05 211.68 697.30 211.68 697.55 210.37 697.80 210.37 698.05 209.05 698.30 209.05 698.55 210.37 698.80 209.05 699.05 210.37 699.30 209.05 699.55 209.05 699.80 210.37 700.05 209.05 700.30 209.05 700.55 209.05 700.80 207.74 701.05 210.37 701.30 207.74 701.55 209.05 701.80 207.74 702.05 206.42 702.30 209.05 702.55 207.74 702.80 206.42 703.05 206.42 703.30 206.42 703.55 207.74 703.80 205.11 704.05 206.42 704.30 207.74 704.55 207.74 704.80 206.42 705.05 207.74 705.30 207.74 705.55 209.05 705.80 209.05 706.05 210.37 706.30 210.37 706.55 209.05 706.80 210.37 707.05 210.37 707.30 210.37 707.55 209.05 707.80 210.37 708.05 209.05 708.30 210.37 708.55 207.74 708.80 209.05 709.05 206.42 709.30 209.05 709.55 207.74 709.80 207.74 710.05 209.05 710.30 207.74 710.55 207.74 710.80 209.05 711.05 209.05 711.30 209.05 711.55 207.74 711.80 209.05 712.05 209.05 712.30 209.05 712.55 209.05 712.80 209.05 713.05 209.05 713.30 209.05 713.55 209.05 713.80 210.37 714.05 210.37 714.30 209.05 714.55 209.05 714.80 207.74 715.05 209.05 715.30 209.05 715.55 209.05 715.80 209.05 716.05 209.05 716.30 210.37 716.55 209.05 716.80 210.37 717.05 210.37 717.30 210.37 717.55 209.05 717.80 209.05 718.05 210.37 718.30 207.74 718.55 207.74 718.80 209.05 719.05 209.05 719.30 210.37 719.55 210.37 719.80 209.05 720.05 210.37 720.30 209.05 720.55 207.74 720.80 207.74 721.05 206.42 721.30 205.11 721.55 206.42 721.80 205.11 722.05 206.42 722.30 205.11 722.55 203.80 722.80 202.48 723.05 202.48 723.30 202.48 723.55 202.48 723.80 202.48 724.05 202.48 724.30 202.48 724.55 201.17 724.80 199.85 725.05 199.85 725.30 201.17 725.55 198.54 725.80 198.54 726.05 199.85 726.30 197.23 726.55 198.54 726.80 199.85 727.05 199.85 727.30 199.85 727.55 198.54 727.80 201.17 728.05 201.17 728.30 201.17 728.55 202.48 728.80 202.48 729.05 201.17 729.30 199.85 729.55 201.17 729.80 201.17 730.05 201.17 730.30 199.85 730.55 199.85 730.80 201.17 731.05 202.48 731.30 201.17 731.55 202.48 731.80 202.48 732.05 201.17 732.30 201.17 732.55 202.48 732.80 201.17 733.05 202.48 733.30 201.17 733.55 201.17 733.80 203.80 734.05 202.48 734.30 202.48 734.55 199.85 734.80 201.17 735.05 199.85 735.30 198.54 735.55 199.85 735.80 198.54 736.05 199.85 736.30 197.23 736.55 195.91 736.80 194.60 737.05 194.60 737.30 195.91 737.55 193.28 737.80 193.28 738.05 193.28 738.30 193.28 738.55 193.28 738.80 191.97 739.05 191.97 739.30 189.34 739.55 189.34 739.80 190.66 740.05 188.03 740.30 189.34 740.55 186.71 740.80 186.71 741.05 185.40 741.30 185.40 741.55 186.71 741.80 185.40 742.05 185.40 742.30 184.09 742.55 184.09 742.80 182.77 743.05 185.40 743.30 184.09 743.55 186.71 743.80 185.40 744.05 185.40 744.30 185.40 744.55 185.40 744.80 186.71 745.05 186.71 745.30 186.71 745.55 188.03 745.80 188.03 746.05 186.71 746.30 188.03 746.55 189.34 746.80 188.03 747.05 189.34 747.30 188.03 747.55 188.03 747.80 189.34 748.05 188.03 748.30 188.03 748.55 189.34 748.80 188.03 749.05 189.34 749.30 186.71 749.55 186.71 749.80 186.71 750.05 185.40 750.30 186.71 750.55 185.40 750.80 185.40 751.05 185.40 751.30 185.40 751.55 185.40 751.80 185.40 752.05 184.09 752.30 184.09 752.55 186.71 752.80 185.40 753.05 185.40 753.30 185.40 753.55 185.40 753.80 185.40 754.05 184.09 754.30 185.40 754.55 185.40 754.80 184.09 755.05 186.71 755.30 184.09 755.55 184.09 755.80 186.71 756.05 184.09 756.30 185.40 756.55 185.40 756.80 185.40 757.05 184.09 757.30 184.09 757.55 185.40 757.80 184.09 758.05 186.71 758.30 184.09 758.55 186.71 758.80 185.40 759.05 185.40 759.30 186.71 759.55 186.71 759.80 188.03 760.05 188.03 760.30 190.66 760.55 190.66 760.80 189.34 761.05 190.66 761.30 191.97 761.55 191.97 761.80 193.28 762.05 191.97 762.30 193.28 762.55 193.28 762.80 193.28 763.05 194.60 763.30 193.28 763.55 194.60 763.80 194.60 764.05 193.28 764.30 194.60 764.55 193.28 764.80 194.60 765.05 195.91 765.30 194.60 765.55 197.23 765.80 195.91 766.05 197.23 766.30 198.54 766.55 198.54 766.80 198.54 767.05 198.54 767.30 199.85 767.55 199.85 767.80 199.85 768.05 202.48 768.30 201.17 768.55 202.48 768.80 203.80 769.05 203.80 769.30 205.11 769.55 205.11 769.80 203.80 770.05 205.11 770.30 203.80 770.55 205.11 770.80 205.11 771.05 203.80 771.30 203.80 771.55 205.11 771.80 205.11 772.05 203.80 772.30 205.11 772.55 203.80 772.80 205.11 773.05 205.11 773.30 205.11 773.55 209.05 773.80 209.05 774.05 210.37 774.30 207.74 774.55 209.05 774.80 209.05 775.05 210.37 775.30 210.37 775.55 211.68 775.80 210.37 776.05 210.37 776.30 211.68 776.55 211.68 776.80 211.68 777.05 211.68 777.30 212.99 777.55 211.68 777.80 212.99 778.05 214.31 778.30 214.31 778.55 212.99 778.80 216.94 779.05 216.94 779.30 215.62 779.55 215.62 779.80 218.25 780.05 218.25 780.30 216.94 780.55 216.94 780.80 216.94 781.05 218.25 781.30 215.62 781.55 218.25 781.80 216.94 782.05 215.62 782.30 216.94 782.55 215.62 782.80 216.94 783.05 216.94 783.30 214.31 783.55 214.31 783.80 216.94 784.05 214.31 784.30 215.62 784.55 215.62 784.80 215.62 785.05 216.94 785.30 215.62 785.55 215.62 785.80 214.31 786.05 215.62 786.30 215.62 786.55 215.62 786.80 216.94 787.05 214.31 787.30 215.62 787.55 214.31 787.80 216.94 788.05 218.25 788.30 216.94 788.55 216.94 788.80 219.56 789.05 218.25 789.30 218.25 789.55 216.94 789.80 218.25 790.05 219.56 790.30 219.56 790.55 219.56 790.80 219.56 791.05 219.56 791.30 220.88 791.55 222.19 791.80 219.56 792.05 220.88 792.30 222.19 792.55 220.88 792.80 223.51 793.05 222.19 793.30 220.88 793.55 223.51 793.80 220.88 794.05 219.56 794.30 219.56 794.55 219.56 794.80 218.25 795.05 218.25 795.30 216.94 795.55 218.25 795.80 216.94 796.05 215.62 796.30 215.62 796.55 215.62 796.80 212.99 797.05 214.31 797.30 214.31 797.55 214.31 797.80 214.31 798.05 215.62 798.30 215.62 798.55 216.94 798.80 216.94 799.05 216.94 799.30 218.25 799.55 219.56 799.80 218.25 800.05 218.25 800.30 219.56 800.55 219.56 800.80 223.51 801.05 220.88 801.30 220.88 801.55 222.19 801.80 223.51 802.05 223.51 802.30 222.19 802.55 223.51 802.80 224.82 803.05 224.82 803.30 224.82 803.55 223.51 803.80 226.13 804.05 226.13 804.30 226.13 804.55 226.13 804.80 224.82 805.05 224.82 805.30 223.51 805.55 223.51 805.80 223.51 806.05 226.13 806.30 226.13 806.55 224.82 806.80 224.82 807.05 224.82 807.30 226.13 807.55 226.13 807.80 224.82 808.05 226.13 808.30 226.13 808.55 226.13 808.80 224.82 809.05 223.51 809.30 224.82 809.55 223.51 809.80 222.19 810.05 223.51 810.30 222.19 810.55 223.51 810.80 222.19 811.05 220.88 811.30 223.51 811.55 222.19 811.80 223.51 812.05 223.51 812.30 224.82 812.55 224.82 812.80 223.51 813.05 223.51 813.30 223.51 813.55 223.51 813.80 223.51 814.05 222.19 814.30 223.51 814.55 222.19 814.80 222.19 815.05 223.51 815.30 220.88 815.55 220.88 815.80 220.88 816.05 219.56 816.30 222.19 816.55 220.88 816.80 223.51 817.05 223.51 817.30 224.82 817.55 223.51 817.80 222.19 818.05 224.82 818.30 224.82 818.55 224.82 818.80 224.82 819.05 226.13 819.30 227.45 819.55 226.13 819.80 228.76 820.05 226.13 820.30 227.45 820.55 227.45 820.80 227.45 821.05 227.45 821.30 227.45 821.55 226.13 821.80 228.76 822.05 228.76 822.30 228.76 822.55 227.45 822.80 227.45 823.05 227.45 823.30 226.13 823.55 224.82 823.80 224.82 824.05 223.51 824.30 223.51 824.55 223.51 824.80 222.19 825.05 220.88 825.30 222.19 825.55 219.56 825.80 219.56 826.05 218.25 826.30 218.25 826.55 218.25 826.80 216.94 827.05 218.25 827.30 220.88 827.55 220.88 827.80 220.88 828.05 223.51 828.30 223.51 828.55 224.82 828.80 226.13 829.05 226.13 829.30 227.45 829.55 227.45 829.80 227.45 830.05 227.45 830.30 231.39 830.55 231.39 830.80 231.39 831.05 234.02 831.30 231.39 831.55 231.39 831.80 232.70 832.05 231.39 832.30 232.70 832.55 232.70 832.80 232.70 833.05 234.02 833.30 232.70 833.55 232.70 833.80 234.02 834.05 232.70 834.30 232.70 834.55 232.70 834.80 234.02 835.05 235.33 835.30 234.02 835.55 235.33 835.80 235.33 836.05 234.02 836.30 236.65 836.55 236.65 836.80 234.02 837.05 236.65 837.30 235.33 837.55 235.33 837.80 237.96 838.05 236.65 838.30 239.27 838.55 237.96 838.80 239.27 839.05 237.96 839.30 239.27 839.55 239.27 839.80 239.27 840.05 241.90 840.30 240.59 840.55 241.90 840.80 244.53 841.05 244.53 841.30 245.84 841.55 245.84 841.80 247.16 842.05 247.16 842.30 249.79 842.55 249.79 842.80 248.47 843.05 251.10 843.30 249.79 843.55 251.10 843.80 252.41 844.05 252.41 844.30 251.10 844.55 252.41 844.80 255.04 845.05 256.36 845.30 255.04 845.55 253.73 845.80 256.36 846.05 256.36 846.30 257.67 846.55 258.98 846.80 257.67 847.05 260.30 847.30 260.30 847.55 260.30 847.80 260.30 848.05 261.61 848.30 264.24 848.55 264.24 848.80 262.93 849.05 262.93 849.30 262.93 849.55 265.55 849.80 264.24 850.05 265.55 850.30 264.24 850.55 265.55 850.80 265.55 851.05 265.55 851.30 266.87 851.55 266.87 851.80 266.87 852.05 268.18 852.30 269.50 852.55 266.87 852.80 268.18 853.05 269.50 853.30 270.81 853.55 272.12 853.80 272.12 854.05 270.81 854.30 272.12 854.55 274.75 854.80 276.07 855.05 276.07 855.30 276.07 855.55 276.07 855.80 280.01 856.05 280.01 856.30 282.64 856.55 282.64 856.80 282.64 857.05 283.95 857.30 283.95 857.55 286.58 857.80 286.58 858.05 285.26 858.30 286.58 858.55 287.89 858.80 287.89 859.05 287.89 859.30 287.89 859.55 287.89 859.80 287.89 860.05 290.52 860.30 290.52 860.55 290.52 860.80 293.15 861.05 294.46 861.30 293.15 861.55 294.46 861.80 295.78 862.05 295.78 862.30 297.09 862.55 298.40 862.80 298.40 863.05 301.03 863.30 301.03 863.55 303.66 863.80 304.97 864.05 302.35 864.30 304.97 864.55 306.29 864.80 307.60 865.05 307.60 865.30 307.60 865.55 308.92 865.80 308.92 866.05 310.23 866.30 312.86 866.55 312.86 866.80 314.17 867.05 315.49 867.30 315.49 867.60 320.33 868.40 327.10 869.20 320.27 870.00 329.44 870.80 319.05 871.60 330.37 872.40 318.10 873.20 330.29 874.00 321.75 874.80 334.23 875.60 323.56 876.40 331.36 877.20 322.98 878.00 330.41 878.80 324.17 879.60 328.75 880.40 325.10 881.20 332.02 882.00 324.87 882.80 329.70 883.60 324.15 884.40 328.67 885.20 326.35 885.80 328.63 886.05 327.31 886.30 328.63 886.55 328.63 886.80 328.63 887.05 329.94 887.30 328.63 887.55 331.25 887.80 329.94 888.05 332.57 888.30 331.25 888.55 331.25 888.80 331.25 889.05 331.25 889.30 335.20 889.55 332.57 889.80 335.20 890.05 332.57 890.30 335.20 890.55 336.51 890.80 335.20 891.05 335.20 891.30 335.20 891.55 333.88 891.80 335.20 892.05 332.57 892.30 335.20 892.55 333.88 892.80 333.88 893.05 332.57 893.30 332.57 893.55 333.88 893.80 333.88 894.05 333.88 894.30 335.20 894.55 335.20 894.80 337.82 895.05 336.51 895.30 337.82 895.55 337.82 895.80 337.82 896.05 337.82 896.30 336.51 896.55 336.51 896.80 336.51 897.05 336.51 897.30 335.20 897.55 333.88 897.80 336.51 898.05 336.51 898.30 337.82 898.55 335.20 898.80 337.82 899.05 336.51 899.30 337.82 899.55 336.51 899.80 335.20 900.05 336.51 900.30 337.82 900.55 337.82 900.80 339.14 901.05 337.82 901.30 340.45 901.55 339.14 901.80 339.14 902.05 339.14 902.30 340.45 902.55 341.77 902.80 340.45 903.05 339.14 903.30 341.77 903.55 340.45 903.80 343.08 904.05 343.08 904.30 343.08 904.55 343.08 904.80 345.71 905.05 344.39 905.30 344.39 905.55 345.71 905.80 343.08 906.05 345.71 906.30 343.08 906.55 345.71 906.80 344.39 907.05 345.71 907.30 343.08 907.55 344.39 907.80 344.39 908.05 345.71 908.30 345.71 908.55 345.71 908.80 344.39 909.05 344.39 909.30 344.39 909.55 344.39 909.80 344.39 910.05 344.39 910.30 345.71 910.55 345.71 910.80 344.39 911.05 345.71 911.30 344.39 911.55 344.39 911.80 343.08 912.05 345.71 912.30 345.71 912.55 343.08 912.80 344.39 913.05 344.39 913.30 343.08 913.55 343.08 913.80 344.39 914.05 345.71 914.30 344.39 914.55 347.02 914.80 347.02 915.05 347.02 915.30 348.34 915.55 349.65 915.80 347.02 916.05 349.65 916.30 348.34 916.55 349.65 916.80 350.96 917.05 349.65 917.30 350.96 917.55 352.28 917.80 350.96 918.05 349.65 918.30 350.96 918.55 353.59 918.80 350.96 919.05 354.91 919.30 352.28 919.55 354.91 919.80 353.59 920.05 353.59 920.30 356.22 920.55 354.91 920.80 356.22 921.05 357.53 921.30 357.53 921.55 357.53 921.80 357.53 922.05 354.91 922.30 356.22 922.55 357.53 922.80 357.53 923.05 356.22 923.30 357.53 923.55 356.22 923.80 357.53 924.05 356.22 924.30 356.22 924.55 358.85 924.80 357.53 925.05 358.85 925.30 356.22 925.55 357.53 925.80 357.53 926.05 357.53 926.30 357.53 926.55 358.85 926.80 357.53 927.05 358.85 927.30 358.85 927.55 357.53 927.80 358.85 928.05 358.85 928.30 360.16 928.55 358.85 928.80 358.85 929.05 361.48 929.30 360.16 929.55 360.16 929.80 358.85 930.05 360.16 930.30 360.16 930.55 360.16 930.80 360.16 931.05 361.48 931.30 361.48 931.55 361.48 931.80 361.48 932.05 360.16 932.30 362.79 932.55 362.79 932.80 362.79 933.05 362.79 933.30 364.10 933.55 365.42 933.80 364.10 934.05 362.79 934.30 361.48 934.55 360.16 934.80 360.16 935.05 361.48 935.30 358.85 935.55 357.53 935.80 354.91 936.05 350.96 936.30 353.59 936.55 350.96 936.80 352.28 937.05 352.28 937.30 350.96 937.55 350.96 937.80 350.96 938.05 349.65 938.30 349.65 938.55 349.65 938.80 350.96 939.05 350.96 939.30 350.96 939.55 348.34 939.80 349.65 940.05 348.34 940.30 349.65 940.55 348.34 940.80 347.02 941.05 349.65 941.30 345.71 941.55 348.34 941.80 348.34 942.05 347.02 942.30 347.02 942.55 347.02 942.80 345.71 943.05 345.71 943.30 345.71 943.55 344.39 943.80 345.71 944.05 344.39 944.30 344.39 944.55 344.39 944.80 344.39 945.05 343.08 945.30 343.08 945.55 343.08 945.80 341.77 946.05 341.77 946.30 340.45 946.55 341.77 946.80 340.45 947.05 340.45 947.30 339.14 947.55 339.14 947.80 337.82 948.05 337.82 948.30 339.14 948.55 337.82 948.80 337.82 949.05 337.82 949.30 337.82 949.55 335.20 949.80 335.20 950.05 336.51 950.30 335.20 950.55 335.20 950.80 335.20 951.05 335.20 951.30 335.20 951.55 332.57 951.80 332.57 952.05 333.88 952.30 333.88 952.55 331.25 952.80 331.25 953.05 331.25 953.30 329.94 953.55 331.25 953.80 331.25 954.05 331.25 954.30 329.94 954.55 328.63 954.80 329.94 955.05 331.25 955.30 329.94 955.55 328.63 955.80 328.63 956.05 328.63 956.30 328.63 956.55 326.00 956.80 327.31 957.05 326.00 957.30 326.00 957.55 324.68 957.80 324.68 958.05 324.68 958.30 324.68 958.55 323.37 958.80 323.37 959.05 324.68 959.30 322.06 959.55 322.06 959.80 323.37 960.05 320.74 960.30 320.74 960.55 320.74 960.80 322.06 961.05 319.43 961.30 320.74 961.55 320.74 961.80 318.11 962.05 318.11 962.30 319.43 962.55 318.11 962.80 318.11 963.05 316.80 963.30 316.80 963.55 316.80 963.80 316.80 964.05 315.49 964.30 315.49 964.55 315.49 964.80 315.49 965.05 314.17 965.30 314.17 965.55 314.17 965.80 315.49 966.05 312.86 966.30 315.49 966.55 314.17 966.80 314.17 967.05 314.17 967.30 314.17 967.55 312.86 967.80 314.17 968.05 314.17 968.30 314.17 968.55 314.17 968.80 314.17 969.05 314.17 969.30 311.54 969.55 314.17 969.80 312.86 970.05 312.86 970.30 312.86 970.55 311.54 970.80 311.54 971.05 312.86 971.30 311.54 971.55 311.54 971.80 311.54 972.05 311.54 972.30 311.54 972.55 310.23 972.80 310.23 973.05 308.92 973.30 310.23 973.55 310.23 973.80 310.23 974.05 310.23 974.30 308.92 974.55 308.92 974.80 308.92 975.05 311.54 975.30 308.92 975.55 308.92 975.80 311.54 976.05 310.23 976.30 308.92 976.55 311.54 976.80 310.23 977.05 310.23 977.30 308.92 977.55 311.54 977.80 310.23 978.05 310.23 978.30 311.54 978.55 311.54 978.80 311.54 979.05 308.92 979.30 310.23 979.55 310.23 979.80 308.92 980.05 311.54 980.30 310.23 980.55 310.23 980.80 310.23 981.05 310.23 981.30 311.54 981.55 310.23 981.80 310.23 982.05 310.23 982.30 308.92 982.55 310.23 982.80 311.54 983.05 310.23 983.30 310.23 983.55 307.60 983.80 307.60 984.05 307.60 984.30 307.60 984.55 307.60 984.80 307.60 985.05 306.29 985.30 306.29 985.55 304.97 985.80 307.60 986.05 306.29 986.30 307.60 986.55 307.60 986.80 306.29 987.05 306.29 987.30 307.60 987.55 307.60 987.80 308.92 988.05 307.60 988.30 307.60 988.55 310.23 988.80 307.60 989.05 308.92 989.30 310.23 989.55 308.92 989.80 308.92 990.05 310.23 990.30 308.92 990.55 310.23 990.80 307.60 991.05 308.92 991.30 308.92 991.55 307.60 991.80 310.23 992.05 308.92 992.30 310.23 992.55 310.23 992.80 311.54 993.05 311.54 993.30 311.54 993.55 310.23 993.80 311.54 994.05 311.54 994.30 310.23 994.55 308.92 994.80 310.23 995.05 308.92 995.30 310.23 995.55 308.92 995.80 308.92 996.05 308.92 996.30 310.23 996.55 311.54 996.80 310.23 997.05 311.54 997.30 311.54 997.55 312.86 997.80 312.86 998.05 312.86 998.30 312.86 998.55 315.49 998.80 314.17 999.05 316.80 999.30 315.49 999.55 315.49 999.80 316.80 1000.05 316.80 1000.30 316.80 1000.55 315.49 1000.80 318.11 1001.05 315.49 1001.30 316.80 1001.55 315.49 1001.80 316.80 1002.05 316.80 1002.30 314.17 1002.55 312.86 1002.80 314.17 1003.05 314.17 1003.30 312.86 1003.55 314.17 1003.80 312.86 1004.05 314.17 1004.30 314.17 1004.55 314.17 1004.80 314.17 1005.05 312.86 1005.30 315.49 1005.55 314.17 1005.80 315.49 1006.05 315.49 1006.30 315.49 1006.55 314.17 1006.80 314.17 1007.05 314.17 1007.30 315.49 1007.55 314.17 1007.80 315.49 1008.05 312.86 1008.30 314.17 1008.55 314.17 1008.80 314.17 1009.05 314.17 1009.30 312.86 1009.55 312.86 1009.80 312.86 1010.05 315.49 1010.30 315.49 1010.55 312.86 1010.80 315.49 1011.05 312.86 1011.30 314.17 1011.55 315.49 1011.80 314.17 1012.05 315.49 1012.30 315.49 1012.55 312.86 1012.80 314.17 1013.05 314.17 1013.30 314.17 1013.55 315.49 1013.80 314.17 1014.05 316.80 1014.30 315.49 1014.55 314.17 1014.80 315.49 1015.05 314.17 1015.30 315.49 1015.55 316.80 1015.80 315.49 1016.05 315.49 1016.30 314.17 1016.55 315.49 1016.80 314.17 1017.05 315.49 1017.30 314.17 1017.55 315.49 1017.80 315.49 1018.05 315.49 1018.30 316.80 1018.55 315.49 1018.80 315.49 1019.05 316.80 1019.30 314.17 1019.55 315.49 1019.80 315.49 1020.05 314.17 1020.30 312.86 1020.55 311.54 1020.80 314.17 1021.05 311.54 1021.30 311.54 1021.55 311.54 1021.80 310.23 1022.05 310.23 1022.30 308.92 1022.55 308.92 1022.80 308.92 1023.05 307.60 1023.30 306.29 1023.55 306.29 1023.80 304.97 1024.05 304.97 1024.30 304.97 1024.55 306.29 1024.80 304.97 1025.05 304.97 1025.30 302.35 1025.55 304.97 1025.80 302.35 1026.05 303.66 1026.30 302.35 1026.55 302.35 1026.80 299.72 1027.05 301.03 1027.30 299.72 1027.55 299.72 1027.80 298.40 1028.05 298.40 1028.30 298.40 1028.55 298.40 1028.80 299.72 1029.05 297.09 1029.30 298.40 1029.55 297.09 1029.80 297.09 1030.05 297.09 1030.30 297.09 1030.55 294.46 1030.80 294.46 1031.05 294.46 1031.30 295.78 1031.55 293.15 1031.80 294.46 1032.05 294.46 1032.30 294.46 1032.55 291.83 1032.80 293.15 1033.05 291.83 1033.30 293.15 1033.55 289.21 1033.80 291.83 1034.05 290.52 1034.30 289.21 1034.55 287.89 1034.80 287.89 1035.05 289.21 1035.30 287.89 1035.55 286.58 1035.80 286.58 1036.05 285.26 1036.30 285.26 1036.55 285.26 1036.80 285.26 1037.05 286.58 1037.30 286.58 1037.55 285.26 1037.80 283.95 1038.05 283.95 1038.30 283.95 1038.55 283.95 1038.80 283.95 1039.05 282.64 1039.30 281.32 1039.55 282.64 1039.80 282.64 1040.05 281.32 1040.30 278.69 1040.55 280.01 1040.80 278.69 1041.05 278.69 1041.30 280.01 1041.55 278.69 1041.80 278.69 1042.05 276.07 1042.30 277.38 1042.55 277.38 1042.80 276.07 1043.05 276.07 1043.30 276.07 1043.55 274.75 1043.80 273.44 1044.05 273.44 1044.30 274.75 1044.55 273.44 1044.80 273.44 1045.05 270.81 1045.30 272.12 1045.55 270.81 1045.80 272.12 1046.05 269.50 1046.30 270.81 1046.55 269.50 1046.80 268.18 1047.05 269.50 1047.30 266.87 1047.55 266.87 1047.80 266.87 1048.05 266.87 1048.30 266.87 1048.55 266.87 1048.80 265.55 1049.05 265.55 1049.30 264.24 1049.55 265.55 1049.80 265.55 1050.05 264.24 1050.30 264.24 1050.55 262.93 1050.80 261.61 1051.05 260.30 1051.30 261.61 1051.55 261.61 1051.80 258.98 1052.05 258.98 1052.30 258.98 1052.55 257.67 1052.80 255.04 1053.05 255.04 1053.30 253.73 1053.55 253.73 1053.80 255.04 1054.05 253.73 1054.30 253.73 1054.55 253.73 1054.80 252.41 1055.05 252.41 1055.30 252.41 1055.55 252.41 1055.80 252.41 1056.05 251.10 1056.30 249.79 1056.55 249.79 1056.80 251.10 1057.05 249.79 1057.30 249.79 1057.55 249.79 1057.80 248.47 1058.05 249.79 1058.30 247.16 1058.55 248.47 1058.80 247.16 1059.05 248.47 1059.30 249.79 1059.55 249.79 1059.80 248.47 1060.05 251.10 1060.30 251.10 1060.55 251.10 1060.80 249.79 1061.05 251.10 1061.30 252.41 1061.55 249.79 1061.80 252.41 1062.05 249.79 1062.30 251.10 1062.55 248.47 1062.80 249.79 1063.05 248.47 1063.30 248.47 1063.55 251.10 1063.80 249.79 1064.05 251.10 1064.30 248.47 1064.55 248.47 1064.80 248.47 1065.05 249.79 1065.30 249.79 1065.55 249.79 1065.80 248.47 1066.05 249.79 1066.30 249.79 1066.55 249.79 1066.80 247.16 1067.05 249.79 1067.30 248.47 1067.55 249.79 1067.80 248.47 1068.05 249.79 1068.30 249.79 1068.55 248.47 1068.80 249.79 1069.05 249.79 1069.30 251.10 1069.55 249.79 1069.80 249.79 1070.05 251.10 1070.30 248.47 1070.55 251.10 1070.80 251.10 1071.05 249.79 1071.30 249.79 1071.55 251.10 1071.80 251.10 1072.05 251.10 1072.30 251.10 1072.55 249.79 1072.80 251.10 1073.05 249.79 1073.30 252.41 1073.55 253.73 1073.80 251.10 1074.05 252.41 1074.30 252.41 1074.55 252.41 1074.80 253.73 1075.05 253.73 1075.30 253.73 1075.55 253.73 1075.80 255.04 1076.05 253.73 1076.30 253.73 1076.55 253.73 1076.80 255.04 1077.05 255.04 1077.30 255.04 1077.55 255.04 1077.80 253.73 1078.05 255.04 1078.30 255.04 1078.55 255.04 1078.80 253.73 1079.05 253.73 1079.30 255.04 1079.55 256.36 1079.80 256.36 1080.05 255.04 1080.30 253.73 1080.55 255.04 1080.80 256.36 1081.05 255.04 1081.30 256.36 1081.55 253.73 1081.80 255.04 1082.05 253.73 1082.30 253.73 1082.55 255.04 1082.80 256.36 1083.05 256.36 1083.30 253.73 1083.55 253.73 1083.80 255.04 1084.05 253.73 1084.30 253.73 1084.55 253.73 1084.80 253.73 1085.05 253.73 1085.30 253.73 1085.55 253.73 1085.80 255.04 1086.05 252.41 1086.30 252.41 1086.55 255.04 1086.80 253.73 1087.05 253.73 1087.30 252.41 1087.55 252.41 1087.80 251.10 1088.05 251.10 1088.30 252.41 1088.55 251.10 1088.80 252.41 1089.05 252.41 1089.30 252.41 1089.55 251.10 1089.80 251.10 1090.05 252.41 1090.30 251.10 1090.55 249.79 1090.80 251.10 1091.05 249.79 1091.30 251.10 1091.55 249.79 1091.80 251.10 1092.05 251.10 1092.30 249.79 1092.55 251.10 1092.80 249.79 1093.05 249.79 1093.30 248.47 1093.55 249.79 1093.80 249.79 1094.05 249.79 1094.30 248.47 1094.55 249.79 1094.80 247.16 1095.05 248.47 1095.30 248.47 1095.55 249.79 1095.80 248.47 1096.05 248.47 1096.30 248.47 1096.55 248.47 1096.80 249.79 1097.05 248.47 1097.30 247.16 1097.55 247.16 1097.80 248.47 1098.05 247.16 1098.30 245.84 1098.55 248.47 1098.80 247.16 1099.05 245.84 1099.30 247.16 1099.55 247.16 1099.80 245.84 1100.05 245.84 1100.30 244.53 1100.55 245.84 1100.80 245.84 1101.05 247.16 1101.30 245.84 1101.55 245.84 1101.80 244.53 1102.05 245.84 1102.30 244.53 1102.55 245.84 1102.80 245.84 1103.05 245.84 1103.30 243.22 1103.55 244.53 1103.80 244.53 1104.05 244.53 1104.30 244.53 1104.55 244.53 1104.80 243.22 1105.05 243.22 1105.30 243.22 1105.55 243.22 1105.80 240.59 1106.05 241.90 1106.30 241.90 1106.55 241.90 1106.80 240.59 1107.05 239.27 1107.30 240.59 1107.55 240.59 1107.80 239.27 1108.05 239.27 1108.30 239.27 1108.55 237.96 1108.80 239.27 1109.05 239.27 1109.30 239.27 1109.55 236.65 1109.80 237.96 1110.05 235.33 1110.30 237.96 1110.55 235.33 1110.80 235.33 1111.05 236.65 1111.30 234.02 1111.55 235.33 1111.80 234.02 1112.05 235.33 1112.30 235.33 1112.55 235.33 1112.80 234.02 1113.05 235.33 1113.30 232.70 1113.55 232.70 1113.80 234.02 1114.05 232.70 1114.30 232.70 1114.55 232.70 1114.80 231.39 1115.05 231.39 1115.30 230.08 1115.55 231.39 1115.80 230.08 1116.05 228.76 1116.30 227.45 1116.55 228.76 1116.80 226.13 1117.05 226.13 1117.30 226.13 1117.55 224.82 1117.80 226.13 1118.05 226.13 1118.30 224.82 1118.55 224.82 1118.80 224.82 1119.05 224.82 1119.30 222.19 1119.55 223.51 1119.80 223.51 1120.05 223.51 1120.30 223.51 1120.55 220.88 1120.80 223.51 1121.05 220.88 1121.30 222.19 1121.55 220.88 1121.80 220.88 1122.05 222.19 1122.30 222.19 1122.55 220.88 1122.80 220.88 1123.05 219.56 1123.30 219.56 1123.55 219.56 1123.80 218.25 1124.05 219.56 1124.30 219.56 1124.55 218.25 1124.80 216.94 1125.05 218.25 1125.30 216.94 1125.55 216.94 1125.80 216.94 1126.05 216.94 1126.30 216.94 1126.55 216.94 1126.80 216.94 1127.05 216.94 1127.30 215.62 1127.55 215.62 1127.80 212.99 1128.05 212.99 1128.30 212.99 1128.55 214.31 1128.80 214.31 1129.05 212.99 1129.30 211.68 1129.55 211.68 1129.80 211.68 1130.05 212.99 1130.30 212.99 1130.55 211.68 1130.80 210.37 1131.05 210.37 1131.30 210.37 1131.55 211.68 1131.80 211.68 1132.05 210.37 1132.30 209.05 1132.55 209.05 1132.80 209.05 1133.05 210.37 1133.30 209.05 1133.55 210.37 1133.80 210.37 1134.05 210.37 1134.30 209.05 1134.55 210.37 1134.80 209.05 1135.05 207.74 1135.30 209.05 1135.55 209.05 1135.80 209.05 1136.05 209.05 1136.30 207.74 1136.55 210.37 1136.80 210.37 1137.05 210.37 1137.30 211.68 1137.55 209.05 1137.80 210.37 1138.05 209.05 1138.30 210.37 1138.55 210.37 1138.80 207.74 1139.05 207.74 1139.30 207.74 1139.55 207.74 1139.80 207.74 1140.05 206.42 1140.30 209.05 1140.55 207.74 1140.80 207.74 1141.05 206.42 1141.30 209.05 1141.55 207.74 1141.80 206.42 1142.05 207.74 1142.30 209.05 1142.55 209.05 1142.80 209.05 1143.05 209.05 1143.30 209.05 1143.55 209.05 1143.80 210.37 1144.05 210.37 1144.30 209.05 1144.55 210.37 1144.80 209.05 1145.05 209.05 1145.30 210.37 1145.55 210.37 1145.80 211.68 1146.05 211.68 1146.30 210.37 1146.55 210.37 1146.80 211.68 1147.05 210.37 1147.30 211.68 1147.55 211.68 1147.80 211.68 1148.05 212.99 1148.30 211.68 1148.55 212.99 1148.80 212.99 1149.05 211.68 1149.30 211.68 1149.55 212.99 1149.80 211.68 1150.05 210.37 1150.30 211.68 1150.55 212.99 1150.80 211.68 1151.05 211.68 1151.30 212.99 1151.55 212.99 1151.80 211.68 1152.05 211.68 1152.30 210.37 1152.55 210.37 1152.80 212.99 1153.05 211.68 1153.30 210.37 1153.55 210.37 1153.80 210.37 1154.05 211.68 1154.30 210.37 1154.55 210.37 1154.80 211.68 1155.05 210.37 1155.30 210.37 1155.55 209.05 1155.80 207.74 1156.05 207.74 1156.30 209.05 1156.55 207.74 1156.80 210.37 1157.05 209.05 1157.30 207.74 1157.55 209.05 1157.80 206.42 1158.05 207.74 1158.30 206.42 1158.55 207.74 1158.80 207.74 1159.05 207.74 1159.30 205.11 1159.55 206.42 1159.80 205.11 1160.05 206.42 1160.30 205.11 1160.55 205.11 1160.80 205.11 1161.05 206.42 1161.30 203.80 1161.55 203.80 1161.80 205.11 1162.05 205.11 1162.30 205.11 1162.55 203.80 1162.80 206.42 1163.05 203.80 1163.30 206.42 1163.55 206.42 1163.80 205.11 1164.05 203.80 1164.30 206.42 1164.55 205.11 1164.80 205.11 1165.05 203.80 1165.30 206.42 1165.55 205.11 1165.80 205.11 1166.05 203.80 1166.30 206.42 1166.55 206.42 1166.80 206.42 1167.05 205.11 1167.30 205.11 1167.55 205.11 1167.80 206.42 1168.05 205.11 1168.30 206.42 1168.55 207.74 1168.80 207.74 1169.05 205.11 1169.30 205.11 1169.55 205.11 1169.80 207.74 1170.05 207.74 1170.30 207.74 1170.55 206.42 1170.80 206.42 1171.05 207.74 1171.30 207.74 1171.55 207.74 1171.80 207.74 1172.05 207.74 1172.30 207.74 1172.55 206.42 1172.80 206.42 1173.05 203.80 1173.30 206.42 1173.55 206.42 1173.80 205.11 1174.05 206.42 1174.30 203.80 1174.55 206.42 1174.80 205.11 1175.05 205.11 1175.30 203.80 1175.55 203.80 1175.80 203.80 1176.05 203.80 1176.30 203.80 1176.55 203.80 1176.80 205.11 1177.05 205.11 1177.30 205.11 1177.55 203.80 1177.80 205.11 1178.05 205.11 1178.30 203.80 1178.55 201.17 1178.80 201.17 1179.05 201.17 1179.30 199.85 1179.55 199.85 1179.80 201.17 1180.05 201.17 1180.30 198.54 1180.55 199.85 1180.80 199.85 1181.05 199.85 1181.30 198.54 1181.55 197.23 1181.80 195.91 1182.05 197.23 1182.30 195.91 1182.55 195.91 1182.80 194.60 1183.05 194.60 1183.30 195.91 1183.55 193.28 1183.80 193.28 1184.05 193.28 1184.30 191.97 1184.55 193.28 1184.80 190.66 1185.05 193.28 1185.30 191.97 1185.55 193.28 1185.80 190.66 1186.05 190.66 1186.30 190.66 1186.55 191.97 1186.80 189.34 1187.05 189.34 1187.30 190.66 1187.55 191.97 1187.80 189.34 1188.05 189.34 1188.30 190.66 1188.55 189.34 1188.80 189.34 1189.05 189.34 1189.30 188.03 1189.55 188.03 1189.80 186.71 1190.05 188.03 1190.30 186.71 1190.55 185.40 1190.80 188.03 1191.05 186.71 1191.30 185.40 1191.55 185.40 1191.80 185.40 1192.05 185.40 1192.30 184.09 1192.55 184.09 1192.80 184.09 1193.05 182.77 1193.30 184.09 1193.55 182.77 1193.80 182.77 1194.05 182.77 1194.30 184.09 1194.55 184.09 1194.80 181.46 1195.05 182.77 1195.30 181.46 1195.55 180.14 1195.80 180.14 1196.05 180.14 1196.30 181.46 1196.55 180.14 1196.80 180.14 1197.05 178.83 1197.30 180.14 1197.55 178.83 1197.80 180.14 1198.05 177.52 1198.30 178.83 1198.55 177.52 1198.80 177.52 1199.05 177.52 1199.30 176.20 1199.55 173.57 1199.80 172.26 1200.05 172.26 1200.30 173.57 1200.55 170.95 1200.80 172.26 1201.05 172.26 1201.30 172.26 1201.55 169.63 1201.80 169.63 1202.05 169.63 1202.30 170.95 1202.55 169.63 1202.80 169.63 1203.05 169.63 1203.30 168.32 1203.55 167.00 1203.80 167.00 1204.05 168.32 1204.30 167.00 1204.55 168.32 1204.80 167.00 1205.05 167.00 1205.30 165.69 1205.55 167.00 1205.80 165.69 1206.05 165.69 1206.30 165.69 1206.55 164.38 1206.80 164.38 1207.05 165.69 1207.30 164.38 1207.55 164.38 1207.80 165.69 1208.05 164.38 1208.30 164.38 1208.55 164.38 1208.80 164.38 1209.05 163.06 1209.30 164.38 1209.55 163.06 1209.80 164.38 1210.05 161.75 1210.30 163.06 1210.55 164.38 1210.80 161.75 1211.05 161.75 1211.30 163.06 1211.55 161.75 1211.80 163.06 1212.05 164.38 1212.30 161.75 1212.55 161.75 1212.80 163.06 1213.05 161.75 1213.30 161.75 1213.55 163.06 1213.80 161.75 1214.05 161.75 1214.30 163.06 1214.55 163.06 1214.80 164.38 1215.05 163.06 1215.30 163.06 1215.55 163.06 1215.80 164.38 1216.05 164.38 1216.30 164.38 1216.55 165.69 1216.80 165.69 1217.05 163.06 1217.30 165.69 1217.55 165.69 1217.80 164.38 1218.05 164.38 1218.30 167.00 1218.55 165.69 1218.80 165.69 1219.05 165.69 1219.30 168.32 1219.55 167.00 1219.80 168.32 1220.05 167.00 1220.30 167.00 1220.55 167.00 1220.80 167.00 1221.05 168.32 1221.30 168.32 1221.55 168.32 1221.80 170.95 1222.05 169.63 1222.30 168.32 1222.55 168.32 1222.80 170.95 1223.05 169.63 1223.30 169.63 1223.55 170.95 1223.80 172.26 1224.05 172.26 1224.30 170.95 1224.55 172.26 1224.80 172.26 1225.05 173.57 1225.30 172.26 1225.55 174.89 1225.80 174.89 1226.05 174.89 1226.30 176.20 1226.55 174.89 1226.80 176.20 1227.05 174.89 1227.30 174.89 1227.55 176.20 1227.80 178.83 1228.05 176.20 1228.30 177.52 1228.55 176.20 1228.80 178.83 1229.05 177.52 1229.30 178.83 1229.55 180.14 1229.80 178.83 1230.05 180.14 1230.30 178.83 1230.55 180.14 1230.80 177.52 1231.05 180.14 1231.30 178.83 1231.55 180.14 1231.80 180.14 1232.05 181.46 1232.30 180.14 1232.55 181.46 1232.80 180.14 1233.05 180.14 1233.30 181.46 1233.55 180.14 1233.80 181.46 1234.05 181.46 1234.30 180.14 1234.55 182.77 1234.80 181.46 1235.05 181.46 1235.30 181.46 1235.55 182.77 1235.80 181.46 1236.05 182.77 1236.30 181.46 1236.55 184.09 1236.80 181.46 1237.05 184.09 1237.30 182.77 1237.55 184.09 1237.80 184.09 1238.05 184.09 1238.30 182.77 1238.55 182.77 1238.80 182.77 1239.05 185.40 1239.30 184.09 1239.55 184.09 1239.80 185.40 1240.05 185.40 1240.30 186.71 1240.55 185.40 1240.80 185.40 1241.05 185.40 1241.30 186.71 1241.55 186.71 1241.80 186.71 1242.05 188.03 1242.30 188.03 1242.55 188.03 1242.80 189.34 1243.05 186.71 1243.30 189.34 1243.55 188.03 1243.80 186.71 1244.05 189.34 1244.30 186.71 1244.55 186.71 1244.80 188.03 1245.05 188.03 1245.30 190.66 1245.55 190.66 1245.80 189.34 1246.05 190.66 1246.30 191.97 1246.55 191.97 1246.80 191.97 1247.05 191.97 1247.30 191.97 1247.55 191.97 1247.80 193.28 1248.05 193.28 1248.30 193.28 1248.55 193.28 1248.80 193.28 1249.05 190.66 1249.30 190.66 1249.55 191.97 1249.80 190.66 1250.05 189.34 1250.30 190.66 1250.55 188.03 1250.80 188.03 1251.05 188.03 1251.30 189.34 1251.55 189.34 1251.80 188.03 1252.05 189.34 1252.30 189.34 1252.55 189.34 1252.80 189.34 1253.05 190.66 1253.30 188.03 1253.55 189.34 1253.80 190.66 1254.05 190.66 1254.30 190.66 1254.55 189.34 1254.80 190.66 1255.05 190.66 1255.30 189.34 1255.55 189.34 1255.80 190.66 1256.05 189.34 1256.30 189.34 1256.55 190.66 1256.80 190.66 1257.05 189.34 1257.30 190.66 1257.55 189.34 1257.80 189.34 1258.05 189.34 1258.30 188.03 1258.55 188.03 1258.80 188.03 1259.05 188.03 1259.30 186.71 1259.55 186.71 1259.80 186.71 1260.05 186.71 1260.30 185.40 1260.55 186.71 1260.80 188.03 1261.05 186.71 1261.30 185.40 1261.55 186.71 1261.80 185.40 1262.05 184.09 1262.30 185.40 1262.55 184.09 1262.80 184.09 1263.05 182.77 1263.30 182.77 1263.55 184.09 1263.80 184.09 1264.05 182.77 1264.30 182.77 1264.55 182.77 1264.80 182.77" fill="none" stroke="#0000ff" stroke-width="4.0" stroke-linejoin="round" stroke-linecap="butt"/>
<path d="M194.5 383.5 V49" stroke="#000" stroke-width="3.125" stroke-dasharray="11.56 5" fill="none"/>
<path d="M347.5 383.5 V49" stroke="#000" stroke-width="3.125" stroke-dasharray="11.56 5" fill="none"/>
<path d="M501.5 383.5 V49" stroke="#000" stroke-width="3.125" stroke-dasharray="11.56 5" fill="none"/>
<path d="M654.5 383.5 V49" stroke="#000" stroke-width="3.125" stroke-dasharray="11.56 5" fill="none"/>
<path d="M807.5 383.5 V49" stroke="#000" stroke-width="3.125" stroke-dasharray="11.56 5" fill="none"/>
<path d="M961.5 383.5 V49" stroke="#000" stroke-width="3.125" stroke-dasharray="11.56 5" fill="none"/>
<path d="M1114.5 383.5 V49" stroke="#000" stroke-width="3.125" stroke-dasharray="11.56 5" fill="none"/>
</g>
<g stroke="#000" stroke-width="2" fill="none">
<path d="M188 53 V384"/><path d="M1350 53 V384"/><path d="M187 54 H1351"/><path d="M187 383 H1351"/>
</g>
<g stroke="#000" stroke-opacity="0.835" stroke-width="2" fill="none">
<path d="M187 384 V390"/>
<path d="M277 384 V390"/>
<path d="M366 384 V390"/>
<path d="M456 384 V390"/>
<path d="M545 384 V390"/>
<path d="M635 384 V390"/>
<path d="M724 384 V390"/>
<path d="M813 384 V390"/>
<path d="M903 384 V390"/>
<path d="M992 384 V390"/>
<path d="M1082 384 V390"/>
<path d="M1171 384 V390"/>
<path d="M1261 384 V390"/>
<path d="M1350 384 V390"/>
<path d="M181 382 H187"/>
<path d="M1351 382 H1357"/>
<path d="M181 317 H187"/>
<path d="M1351 317 H1357"/>
<path d="M181 251 H187"/>
<path d="M1351 251 H1357"/>
<path d="M181 185 H187"/>
<path d="M1351 185 H1357"/>
<path d="M181 120 H187"/>
<path d="M1351 120 H1357"/>
<path d="M181 54 H187"/>
<path d="M1351 54 H1357"/>
</g>
<rect x="188" y="11" width="425" height="36" rx="4.17" ry="4.17" fill="#fff" fill-opacity="0.8" stroke="#cccccc" stroke-opacity="0.8" stroke-width="2"/>
<path d="M194.94 28.5 H240.06" stroke="#0000ff" stroke-width="3.125" fill="none"/>
<rect x="480" y="21" width="42" height="14" fill="#d3d3d3" fill-opacity="0.5" stroke="#d3d3d3" stroke-opacity="0.5" stroke-width="2.08"/>
<g opacity="0.999">
<text id="xt0" transform="translate(0 413.00) scale(1 1.0526)" x="174.47 187.72" y="0" font-size="22.1" fill="#000">23</text>
<text id="xt1" transform="translate(0 413.00) scale(1 1.0526)" x="264.14 277.14" y="0" font-size="22.1" fill="#000">12</text>
<text id="xt2" transform="translate(0 413.00) scale(1 1.0526)" x="360.20" y="0" font-size="22.1" fill="#000">2</text>
<text id="xt3" transform="translate(0 413.00) scale(1 1.0526)" x="442.66 455.91" y="0" font-size="22.1" fill="#000">16</text>
<text id="xt4" transform="translate(0 413.00) scale(1 1.0526)" x="539.40" y="0" font-size="22.1" fill="#000">6</text>
<text id="xt5" transform="translate(0 413.00) scale(1 1.0526)" x="621.42 634.92" y="0" font-size="22.1" fill="#000">20</text>
<text id="xt6" transform="translate(0 413.00) scale(1 1.0526)" x="710.69 723.94" y="0" font-size="22.1" fill="#000">10</text>
<text id="xt7" transform="translate(0 413.00) scale(1 1.0526)" x="807.38" y="0" font-size="22.1" fill="#000">0</text>
<text id="xt8" transform="translate(0 413.00) scale(1 1.0526)" x="889.69 902.69" y="0" font-size="22.1" fill="#000">14</text>
<text id="xt9" transform="translate(0 413.00) scale(1 1.0526)" x="986.20" y="0" font-size="22.1" fill="#000">4</text>
<text id="xt10" transform="translate(0 413.00) scale(1 1.0526)" x="1068.71 1081.96" y="0" font-size="22.1" fill="#000">18</text>
<text id="xt11" transform="translate(0 413.00) scale(1 1.0526)" x="1165.38" y="0" font-size="22.1" fill="#000">8</text>
<text id="xt12" transform="translate(0 413.00) scale(1 1.0526)" x="1247.97 1261.22" y="0" font-size="22.1" fill="#000">22</text>
<text id="xt13" transform="translate(0 413.00) scale(1 1.0526)" x="1337.14 1350.14" y="0" font-size="22.1" fill="#000">12</text>
<text id="yt0" transform="translate(0 62.00) scale(1 1.0526)" x="119.44 132.69 145.70 159.45" y="0" font-size="22.1" fill="#000">1027</text>
<text id="yt1" transform="translate(0 128.00) scale(1 1.0526)" x="119.39 132.64 145.65 158.90" y="0" font-size="22.1" fill="#000">1022</text>
<text id="yt2" transform="translate(0 193.00) scale(1 1.0526)" x="119.44 132.69 145.95 159.45" y="0" font-size="22.1" fill="#000">1017</text>
<text id="yt3" transform="translate(0 259.00) scale(1 1.0526)" x="119.39 132.64 145.90 158.90" y="0" font-size="22.1" fill="#000">1012</text>
<text id="yt4" transform="translate(0 325.00) scale(1 1.0526)" x="119.44 132.69 145.95 159.45" y="0" font-size="22.1" fill="#000">1007</text>
<text id="yt5" transform="translate(0 390.00) scale(1 1.0526)" x="119.39 132.64 145.90 158.90" y="0" font-size="22.1" fill="#000">1002</text>
<text id="y2_0" transform="translate(0 62.00) scale(1 1.0526)" x="1364.27 1377.77 1390.78 1397.40 1410.66" y="0" font-size="22.1" fill="#000">30.33</text>
<text id="y2_1" transform="translate(0 128.00) scale(1 1.0526)" x="1364.15 1377.65 1390.66 1397.53 1410.79" y="0" font-size="22.1" fill="#000">30.18</text>
<text id="y2_2" transform="translate(0 193.00) scale(1 1.0526)" x="1364.22 1377.72 1390.73 1397.60 1410.61" y="0" font-size="22.1" fill="#000">30.04</text>
<text id="y2_3" transform="translate(0 259.00) scale(1 1.0526)" x="1364.40 1377.78 1390.91 1397.78 1410.91" y="0" font-size="22.1" fill="#000">29.89</text>
<text id="y2_4" transform="translate(0 325.00) scale(1 1.0526)" x="1364.45 1377.83 1390.96 1398.08 1410.84" y="0" font-size="22.1" fill="#000">29.74</text>
<text id="y2_5" transform="translate(0 390.00) scale(1 1.0526)" x="1364.40 1377.78 1390.91 1397.41 1410.91" y="0" font-size="22.1" fill="#000">29.59</text>
<text id="xlabel" transform="translate(0 441.00) scale(1 1.0526)" x="606.41 619.66 633.17 639.69 652.94 666.70 673.22 686.35 699.60 707.49 720.75 734.25 740.77 754.28 767.78 774.30 787.43 800.56 807.18 813.43 829.72 842.72 855.80 863.61 875.22 882.72 897.84 909.85 924.64" y="0" font-size="22.1" fill="#000">10/24/25-10/31/25  Hours(UTC)</text>
<text id="leg1" transform="translate(0 35.00) scale(1 1.0526)" x="254.16 268.16 287.46 293.46 311.06 325.53 336.89 343.63 356.08 364.19 376.26 387.11 398.84 411.92 420.03" y="0" font-size="22.1" fill="#000">2m MSL Pressure</text>
<text id="leg2" transform="translate(0 35.00) scale(1 1.0526)" x="538.70 554.40 560.55 576.32 591.98" y="0" font-size="22.1" fill="#000">NIGHT</text>
<text id="ylabel" transform="translate(108.00 0) rotate(-90) scale(1 1.0526)" x="-236.64 -216.97" y="0" font-size="22.1" fill="#000">mb</text>
<text id="y2label" transform="translate(1448.00 0) rotate(-90) scale(1 1.0526)" x="-312.14 -305.62 -292.42 -280.96 -267.76 -255.69 -244.46 -237.59 -224.84 -217.76 -211.76 -192.79 -179.97 -171.86 -160.28 -147.20 -138.39" y="0" font-size="22.1" fill="#000">Inches of Mercury</text>
<text id="d0" transform="translate(0 87.00) scale(1 1.0132)" x="200.25 209.34 218.60 223.07 232.07" y="0" font-size="14.35" fill="#333">10/25</text>
<text id="d1" transform="translate(0 87.00) scale(1 1.0132)" x="353.57 362.66 371.92 376.39 385.65" y="0" font-size="14.35" fill="#333">10/26</text>
<text id="d2" transform="translate(0 87.00) scale(1 1.0132)" x="507.23 516.32 525.58 530.05 539.48" y="0" font-size="14.35" fill="#333">10/27</text>
<text id="d3" transform="translate(0 87.00) scale(1 1.0132)" x="660.61 669.70 678.96 683.43 692.69" y="0" font-size="14.35" fill="#333">10/28</text>
<text id="d4" transform="translate(0 87.00) scale(1 1.0132)" x="814.12 823.21 832.47 836.94 846.11" y="0" font-size="14.35" fill="#333">10/29</text>
<text id="d5" transform="translate(0 87.00) scale(1 1.0132)" x="967.60 976.69 985.95 990.42 999.68" y="0" font-size="14.35" fill="#333">10/30</text>
<text id="d6" transform="translate(0 87.00) scale(1 1.0132)" x="1120.78 1129.87 1139.13 1143.60 1152.86" y="0" font-size="14.35" fill="#333">10/31</text>
</g>
</svg></body></html>
